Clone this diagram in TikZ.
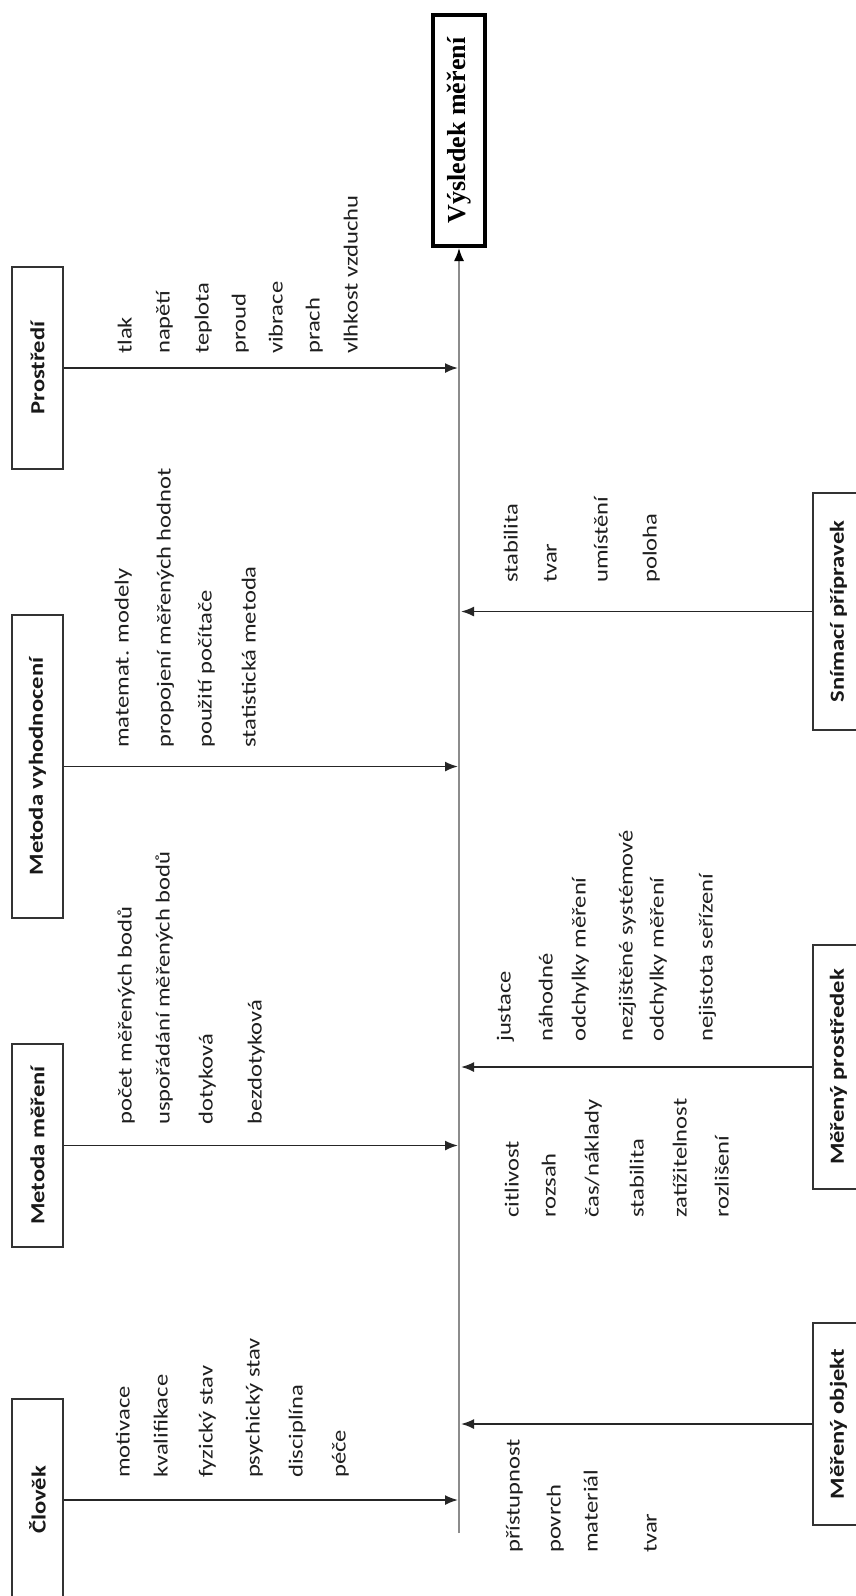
\documentclass[tikz,border=0pt]{standalone}
\usepackage{fontspec}
\usetikzlibrary{arrows.meta}
\newfontfamily\itemfont[FakeStretch=1.23]{Carlito}
\newfontfamily\resfont{Liberation Serif}
\begin{document}
\begin{tikzpicture}[x=1pt,y=-1pt,
  catbox/.style={draw=black!80, line width=1.5pt, rotate=90, minimum height=51pt, inner sep=0pt,
    font=\itemfont\bfseries\fontsize{20}{23}\selectfont, text=black!90},
  item/.style={rotate=90, anchor=west, inner sep=0pt, font=\itemfont\fontsize{20}{23}\selectfont,
    text=black!88, text height=14pt, text depth=5pt},
  branch/.style={draw=black!85, line width=1.8pt, -{Latex[length=13pt,width=10pt]}},
  spine/.style={draw=black!45, line width=1.6pt, -{Latex[length=13pt,width=10pt,color=black]}},
  resbox/.style={draw=black, line width=4pt, rotate=90, inner sep=0pt,
    font=\resfont\bfseries\fontsize{26}{30}\selectfont}
]
\useasboundingbox (0,0) rectangle (856,1596);
\fill[white] (0,0) rectangle (856,1596);

% result
\node[resbox, minimum width=231pt, minimum height=52pt] (result) at (459,130.5) {Výsledek měření};

% category boxes
\node[catbox, minimum width=202pt] (prostredi) at (37.5,368) {Prostředí};
\node[catbox, minimum width=303pt] (metvyh) at (37.5,766.5) {Metoda vyhodnocení};
\node[catbox, minimum width=203pt] (metmer) at (37.5,1145.5) {Metoda měření};
\node[catbox, minimum width=202pt] (clovek) at (37.5,1500) {Člověk};
\node[catbox, minimum width=237pt] (snimaci) at (838.5,611.5) {Snímací přípravek};
\node[catbox, minimum width=244pt] (prostredek) at (838.5,1067) {Měřený prostředek};
\node[catbox, minimum width=202pt] (objekt) at (838.5,1424) {Měřený objekt};

% spine
\coordinate (sb) at (459,1533);
\draw[spine] (sb) -- (result);

% points on spine
\coordinate (l1) at (458,368);
\coordinate (l2) at (458,766.5);
\coordinate (l3) at (458,1145.5);
\coordinate (l4) at (458,1500);
\coordinate (r1) at (461,611.5);
\coordinate (r2) at (461,1067);
\coordinate (r3) at (461,1424);

\draw[branch] (prostredi) -- (l1);
\draw[branch] (metvyh) -- (l2);
\draw[branch] (metmer) -- (l3);
\draw[branch] (clovek) -- (l4);
\draw[branch] (snimaci) -- (r1);
\draw[branch] (prostredek) -- (r2);
\draw[branch] (objekt) -- (r3);

% Prostredi items
\node[item] (pa1) at (127,354) {tlak};
\node[item] (pa2) at (165,354) {napětí};
\node[item] (pa3) at (204,354) {teplota};
\node[item] (pa4) at (241,354) {proud};
\node[item] (pa5) at (278,354) {vibrace};
\node[item] (pa6) at (315,354) {prach};
\node[item] (pa7) at (353,354) {vlhkost vzduchu};

% Metoda vyhodnoceni items
\node[item] (mv1) at (124,748) {matemat. modely};
\node[item] (mv2) at (166,748) {propojení měřených hodnot};
\node[item] (mv3) at (207,748) {použití počítače};
\node[item] (mv4) at (251,748) {statistická metoda};

% Metoda mereni items
\node[item] (mm1) at (127,1125) {počet měřených bodů};
\node[item] (mm2) at (165,1125) {uspořádání měřených bodů};
\node[item] (mm3) at (208,1125) {dotyková};
\node[item] (mm4) at (257,1125) {bezdotyková};

% Clovek items
\node[item] (cl1) at (125,1478) {motivace};
\node[item] (cl2) at (163,1478) {kvalifikace};
\node[item] (cl3) at (208,1478) {fyzický stav};
\node[item] (cl4) at (255,1478) {psychický stav};
\node[item] (cl5) at (298,1478) {disciplína};
\node[item] (cl6) at (341,1478) {péče};

% Snimaci pripravek items
\node[item] (sp1) at (513,583) {stabilita};
\node[item] (sp2) at (552,583) {tvar};
\node[item] (sp3) at (603,583) {umístění};
\node[item] (sp4) at (652,583) {poloha};

% Mereny prostredek items (upper)
\node[item] (mp1) at (506,1042) {justace};
\node[item] (mp2) at (548,1042) {náhodné};
\node[item] (mp3) at (581,1042) {odchylky měření};
\node[item] (mp4) at (628,1042) {nezjištěné systémové};
\node[item] (mp5) at (659,1042) {odchylky měření};
\node[item] (mp6) at (708,1042) {nejistota seřízení};

% Mereny prostredek items (lower)
\node[item] (mq1) at (514,1218) {citlivost};
\node[item] (mq2) at (551,1218) {rozsah};
\node[item] (mq3) at (594,1218) {čas/náklady};
\node[item] (mq4) at (639,1218) {stabilita};
\node[item] (mq5) at (682,1218) {zatížitelnost};
\node[item] (mq6) at (724,1218) {rozlišení};

% Mereny objekt items
\node[item] (mo1) at (515,1553) {přístupnost};
\node[item] (mo2) at (556,1553) {povrch};
\node[item] (mo3) at (593,1553) {materiál};
\node[item] (mo4) at (652,1553) {tvar};
\end{tikzpicture}
\end{document}
